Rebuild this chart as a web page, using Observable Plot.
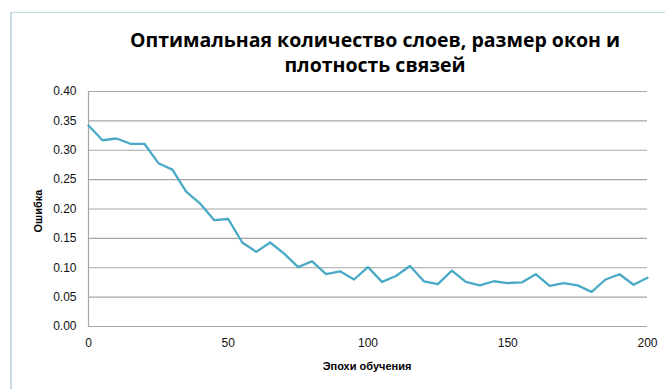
<!DOCTYPE html>
<html>
<head>
<meta charset="utf-8">
<script src="https://cdn.jsdelivr.net/npm/d3@7"></script>
<script src="https://cdn.jsdelivr.net/npm/@observablehq/plot@0.6"></script>
<style>
  html, body { margin: 0; padding: 0; background: #fff; }
  #wrap { position: relative; width: 665px; height: 389px; overflow: hidden; font-family: "Liberation Sans", "DejaVu Sans", sans-serif; }
  #frame { position: absolute; left: 10px; top: 12px; width: 670px; height: 400px; border-left: 2px solid #c5d9e4; border-top: 1px solid #c5d9e4; box-sizing: border-box; }
  #title { position: absolute; left: 95px; width: 560px; top: 27px; text-align: center; font-family: "Open Sans", sans-serif; font-weight: 700; font-size: 19.5px; line-height: 25px; color: #000; }
  #ylab { position: absolute; left: 38px; top: 211px; transform: translate(-50%, -50%) rotate(-90deg); font-weight: 700; font-size: 11px; color: #000; white-space: nowrap; }
  #xlab { position: absolute; left: 367px; top: 360px; transform: translateX(-50%); font-weight: 700; font-size: 11px; color: #000; white-space: nowrap; }
  #chart { position: absolute; left: 0; top: 0; }
</style>
</head>
<body>
<div id="wrap">
  <div id="frame"></div>
  <div id="chart"></div>
  <div id="title">Оптимальная количество слоев, размер окон и<br>плотность связей</div>
  <div id="ylab">Ошибка</div>
  <div id="xlab">Эпохи обучения</div>
</div>
<script>
const epochs = [0,5,10,15,20,25,30,35,40,45,50,55,60,65,70,75,80,85,90,95,100,105,110,115,120,125,130,135,140,145,150,155,160,165,170,175,180,185,190,195,200];
const errors = [0.342,0.317,0.320,0.311,0.311,0.278,0.267,0.229,0.209,0.181,0.183,0.143,0.127,0.143,0.124,0.101,0.111,0.089,0.094,0.080,0.101,0.076,0.086,0.103,0.077,0.072,0.095,0.076,0.070,0.077,0.074,0.075,0.089,0.069,0.074,0.070,0.059,0.080,0.089,0.071,0.083];
const xTicks = [0,50,100,150,200];
const yTicks = [0,0.05,0.10,0.15,0.20,0.25,0.30,0.35,0.40];

const data = epochs.map((e, i) => ({epoch: e, error: errors[i]}));

const chart = Plot.plot({
  width: 665,
  height: 389,
  marginLeft: 88,
  marginRight: 18,
  marginTop: 91,
  marginBottom: 63,
  style: {fontFamily: "Liberation Sans, sans-serif", fontSize: "12px", color: "#111", background: "transparent"},
  x: {domain: [0, 200], ticks: xTicks, tickSize: 0, tickPadding: 12, label: null},
  y: {domain: [0, 0.40], ticks: yTicks, tickSize: 0, tickPadding: 12, tickFormat: d3.format(".2f"), label: null},
  marks: [
    Plot.ruleY(yTicks, {stroke: "#a6a6a6", strokeWidth: 1.2}),
    Plot.ruleX([0], {stroke: "#a6a6a6", strokeWidth: 1.2}),
    Plot.axisX({ticks: xTicks, tickSize: 0, tickPadding: 12, label: null, fontSize: 12}),
    Plot.axisY({ticks: yTicks, tickSize: 0, tickPadding: 12, tickFormat: d3.format(".2f"), label: null, fontSize: 12}),
    Plot.line(data, {x: "epoch", y: "error", stroke: "#4aaac6", strokeWidth: 2.3})
  ]
});
document.getElementById("chart").appendChild(chart);
</script>
</body>
</html>
